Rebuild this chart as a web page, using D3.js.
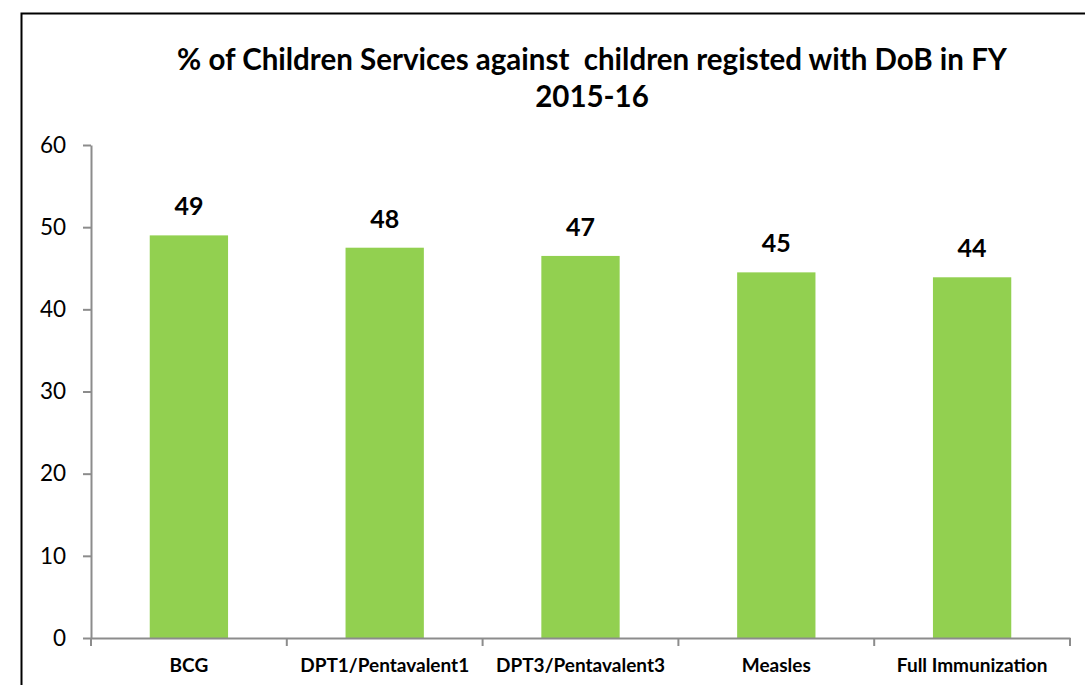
<!DOCTYPE html>
<html>
<head>
<meta charset="utf-8">
<script src="https://cdn.jsdelivr.net/npm/d3@7"></script>
<style>
  body { margin: 0; background: #fff; }
  svg { display: block; }
</style>
</head>
<body>
<script>
var categories = ['BCG', 'DPT1/Pentavalent1', 'DPT3/Pentavalent3', 'Measles', 'Full Immunization'];
var values = [49.0, 47.5, 46.5, 44.5, 43.9];
var yTicks = [0, 10, 20, 30, 40, 50, 60];
var titleLines = ['% of Children Services against  children registed with DoB in FY', '2015-16'];

var data = categories.map(function (c, i) { return { name: c, value: values[i] }; });

var width = 1085, height = 685;
var plotLeft = 91, plotRight = 1070, plotTop = 145, plotBottom = 638;
var font = 'Lato, "Open Sans", sans-serif';
var axisColor = '#8c8c8c';

var svg = d3.select('body').append('svg')
  .attr('width', width)
  .attr('height', height);

// outer chart border (runs off the right and bottom of the picture)
svg.append('rect')
  .attr('x', 21.5).attr('y', 13.5)
  .attr('width', 1200).attr('height', 800)
  .attr('fill', '#fff')
  .attr('stroke', '#000')
  .attr('stroke-width', 2);

var x = d3.scaleBand()
  .domain(categories)
  .range([plotLeft, plotRight])
  .paddingInner(0.6)
  .paddingOuter(0.3);

var y = d3.scaleLinear()
  .domain([0, 60])
  .range([plotBottom, plotTop]);

// title
svg.append('text')
  .attr('x', 592)
  .attr('y', 70)
  .attr('text-anchor', 'middle')
  .style('font-family', font)
  .style('font-weight', 'bold')
  .style('font-size', '29.5px')
  .style('white-space', 'pre')
  .selectAll('tspan')
  .data(titleLines)
  .enter().append('tspan')
  .attr('x', 592)
  .attr('dy', function (d, i) { return i === 0 ? 0 : 37; })
  .text(function (d) { return d; });

// y axis
var yAxis = svg.append('g')
  .attr('transform', 'translate(' + plotLeft + ',0)')
  .call(d3.axisLeft(y).tickValues(yTicks).tickSize(8).tickPadding(17).tickSizeOuter(0));
yAxis.selectAll('line, path').attr('stroke', axisColor).attr('stroke-width', 2);
yAxis.selectAll('text')
  .style('font-family', font)
  .style('font-size', '22.5px')
  .attr('fill', '#000');

// bars
svg.selectAll('rect.bar')
  .data(data)
  .enter().append('rect')
  .attr('class', 'bar')
  .attr('x', function (d) { return x(d.name); })
  .attr('width', x.bandwidth())
  .attr('y', function (d) { return y(d.value); })
  .attr('height', function (d) { return y(0) - y(d.value); })
  .attr('fill', '#92d050');

// value labels
svg.selectAll('text.val')
  .data(data)
  .enter().append('text')
  .attr('class', 'val')
  .attr('x', function (d) { return x(d.name) + x.bandwidth() / 2; })
  .attr('y', function (d) { return y(d.value) - 20; })
  .attr('text-anchor', 'middle')
  .style('font-family', font)
  .style('font-weight', 'bold')
  .style('font-size', '25px')
  .text(function (d) { return Math.round(d.value); });

// x axis with ticks at category boundaries
var xAxis = svg.append('g')
  .attr('transform', 'translate(0,' + plotBottom + ')')
  .call(d3.axisBottom(x).tickSize(0).tickPadding(21).tickSizeOuter(0));
xAxis.select('path').attr('stroke', axisColor).attr('stroke-width', 2);
xAxis.selectAll('text')
  .style('font-family', font)
  .style('font-weight', 'bold')
  .style('font-size', '19px')
  .attr('fill', '#000');

var bounds = d3.range(categories.length + 1).map(function (i) { return plotLeft + i * x.step(); });
xAxis.selectAll('line.bound')
  .data(bounds)
  .enter().append('line')
  .attr('class', 'bound')
  .attr('x1', function (d) { return d; })
  .attr('x2', function (d) { return d; })
  .attr('y1', 0)
  .attr('y2', 8)
  .attr('stroke', axisColor)
  .attr('stroke-width', 2);
</script>
</body>
</html>
